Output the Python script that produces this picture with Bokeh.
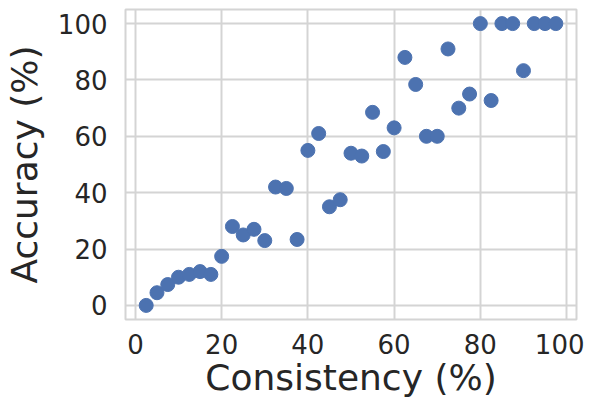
from bokeh.plotting import figure
from bokeh.models import Range1d, FixedTicker
from bokeh.embed import file_html
from bokeh.resources import INLINE

consistency = [2.5, 5, 7.5, 10, 12.5, 15, 17.5, 20, 22.5, 25, 27.5, 30, 32.5, 35, 37.5,
               40, 42.5, 45, 47.5, 50, 52.5, 55, 57.5, 60, 62.5, 65, 67.5, 70, 72.5, 75,
               77.5, 80, 82.5, 85, 87.5, 90, 92.5, 95, 97.5]
accuracy = [0, 4.5, 7.4, 10, 11, 12, 11, 17.4, 28, 25, 27, 23, 42, 41.5, 23.4,
            55, 61, 35, 37.5, 54, 53, 68.5, 54.6, 63, 88, 78.4, 60, 60, 91, 70,
            75, 100, 72.7, 100, 100, 83.3, 100, 100, 100]
ticks = [0, 20, 40, 60, 80, 100]

p = figure(frame_width=451, frame_height=310, output_backend="svg", toolbar_location=None,
           x_range=Range1d(-2.3, 102.3), y_range=Range1d(-5, 105),
           min_border_left=121, min_border_right=8, min_border_top=9, min_border_bottom=60)

p.scatter(consistency, accuracy, size=14, color="#4c72b0", line_color="#4c72b0")

for ax in (p.xaxis, p.yaxis):
    ax.ticker = FixedTicker(ticks=ticks)
    ax.major_tick_line_color = None
    ax.minor_tick_line_color = None
    ax.axis_line_color = None
    ax.major_label_text_font = "DejaVu Sans"
    ax.major_label_text_font_size = "26px"
    ax.major_label_text_color = "#262626"
    ax.axis_label_text_font = "DejaVu Sans"
    ax.axis_label_text_font_style = "normal"
    ax.axis_label_text_color = "#262626"
    ax.axis_label_text_font_size = "36px"

p.xaxis.axis_label = "Consistency (%)"
p.yaxis.axis_label = "Accuracy (%)"
p.xaxis.major_label_standoff = 8
p.yaxis.major_label_standoff = 12
p.xaxis.axis_label_standoff = 0
p.yaxis.axis_label_standoff = 10

p.xgrid.ticker = FixedTicker(ticks=ticks)
p.ygrid.ticker = FixedTicker(ticks=ticks)
p.xgrid.grid_line_color = "#d4d4d4"
p.ygrid.grid_line_color = "#d4d4d4"
p.xgrid.grid_line_width = 2
p.ygrid.grid_line_width = 2
p.outline_line_color = "#d4d4d4"
p.outline_line_width = 2
p.background_fill_color = "white"
p.border_fill_color = "white"

open("out.html", "w").write(file_html(p, INLINE))
